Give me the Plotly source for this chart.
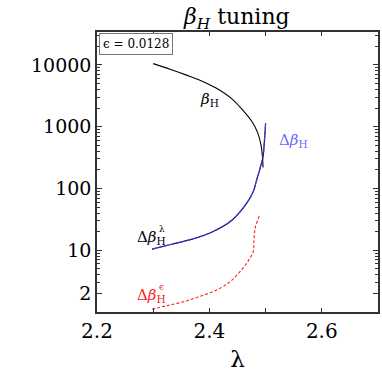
import plotly.graph_objects as go

# data
lam_beta = [2.300, 2.330, 2.358, 2.385, 2.412, 2.440, 2.461, 2.476, 2.486, 2.492, 2.4945, 2.4955]
beta_H = [10500, 8500, 6900, 5560, 4220, 2820, 1780, 1200, 795, 500, 316, 219]

lam_dl = [2.298, 2.333, 2.369, 2.404, 2.440, 2.470, 2.479, 2.484, 2.490, 2.495, 2.498, 2.500]
dbeta_lam = [10.4, 12.5, 15.1, 19.6, 30.6, 64.6, 94, 136, 210, 310, 600, 1140]
dbeta = dbeta_lam

lam_de = [2.298, 2.325, 2.351, 2.380, 2.412, 2.435, 2.452, 2.468, 2.478, 2.479, 2.480, 2.482, 2.490]
dbeta_eps = [1.11, 1.27, 1.44, 1.75, 2.25, 3.0, 4.24, 6.5, 9.5, 13, 18, 24, 38]

x_ticks = [2.2, 2.4, 2.6]
y_ticks = [2, 10, 100, 1000, 10000]
y_tick_text = ["2", "10", "100", "1000", "10000"]

FONT = "DejaVu Serif"

fig = go.Figure()
fig.add_trace(go.Scatter(x=lam_beta, y=beta_H, mode="lines", line=dict(color="black", width=1.1, shape="spline", smoothing=1.0)))
fig.add_trace(go.Scatter(x=lam_dl, y=dbeta_lam, mode="lines", line=dict(color="#111133", width=1.2, shape="spline")))
fig.add_trace(go.Scatter(x=lam_dl, y=dbeta, mode="lines", line=dict(color="#3a3aff", width=1.2, dash="4px,2px", shape="spline")))
fig.add_trace(go.Scatter(x=lam_de, y=dbeta_eps, mode="lines", line=dict(color="#ff2020", width=1.1, dash="3px,2px", shape="spline")))

minor_y = []
for d in [1, 10, 100, 1000, 10000]:
    for m in range(1, 10):
        v = m * d
        if v <= 34000:
            minor_y.append(v)

fig.update_layout(
    width=382, height=372,
    margin=dict(l=97, r=2, t=32, b=60),
    paper_bgcolor="white", plot_bgcolor="white",
    showlegend=False,
    font=dict(family=FONT, color="black"),
    title=dict(text="<i>β</i><sub><i>H</i></sub> tuning", x=0.62, xanchor="center", y=0.955, yanchor="middle",
               font=dict(family=FONT, size=22, color="black")),
    xaxis=dict(range=[2.2, 2.7], tickvals=x_ticks, ticktext=["2.2", "2.4", "2.6"],
               ticks="inside", ticklen=4, tickcolor="#333", mirror="allticks", showline=True,
               linecolor="#333", linewidth=1.5, showgrid=False, zeroline=False,
               tickfont=dict(family=FONT, size=20, color="black"),
               minor=dict(tickvals=[2.3, 2.5], ticks="inside", ticklen=4, tickcolor="#333"),
               title=dict(text="λ", font=dict(family=FONT, size=23, color="black"), standoff=10)),
    yaxis=dict(type="log", range=[0, 4.533], tickvals=y_ticks, ticktext=y_tick_text,
               ticks="inside", ticklen=5, tickcolor="#333", mirror="allticks", showline=True,
               linecolor="#333", linewidth=1.5, showgrid=False, zeroline=False,
               tickfont=dict(family=FONT, size=19, color="black"),
               minor=dict(tickvals=minor_y, ticks="inside", ticklen=3, tickcolor="#333")),
)

def px2paper(px, py):
    return (px - 97) / 283.0, (312 - py) / 280.0

def label(px, py, text, color, size=15):
    x, y = px2paper(px, py)
    fig.add_annotation(x=x, y=y, xref="paper", yref="paper", text=text, showarrow=False,
                       font=dict(family=FONT, size=size, color=color), xanchor="center", yanchor="middle")

label(210, 99, "<i>β</i><sub>H</sub>", "black")
label(295, 140, "Δ<i>β</i><sub>H</sub>", "#6b6bff")
label(152, 237, "Δ<i>β</i><sub>H</sub>", "black")
label(162, 229, "λ", "black", size=9)
label(152, 295, "Δ<i>β</i><sub>H</sub>", "#ff1a1a")
label(162, 287, "ϵ", "#ff1a1a", size=9)

bx, by = px2paper(136, 44.5)
fig.add_annotation(x=bx, y=by, xref="paper", yref="paper", text="ϵ = 0.0128", showarrow=False,
                   font=dict(family=FONT, size=12, color="black"), bordercolor="#777", borderwidth=1,
                   borderpad=3, bgcolor="white", xanchor="center", yanchor="middle")

fig.write_html("out.html", config={"displayModeBar": False},
               post_script="document.body.style.margin='0';document.body.style.overflow='hidden';")
